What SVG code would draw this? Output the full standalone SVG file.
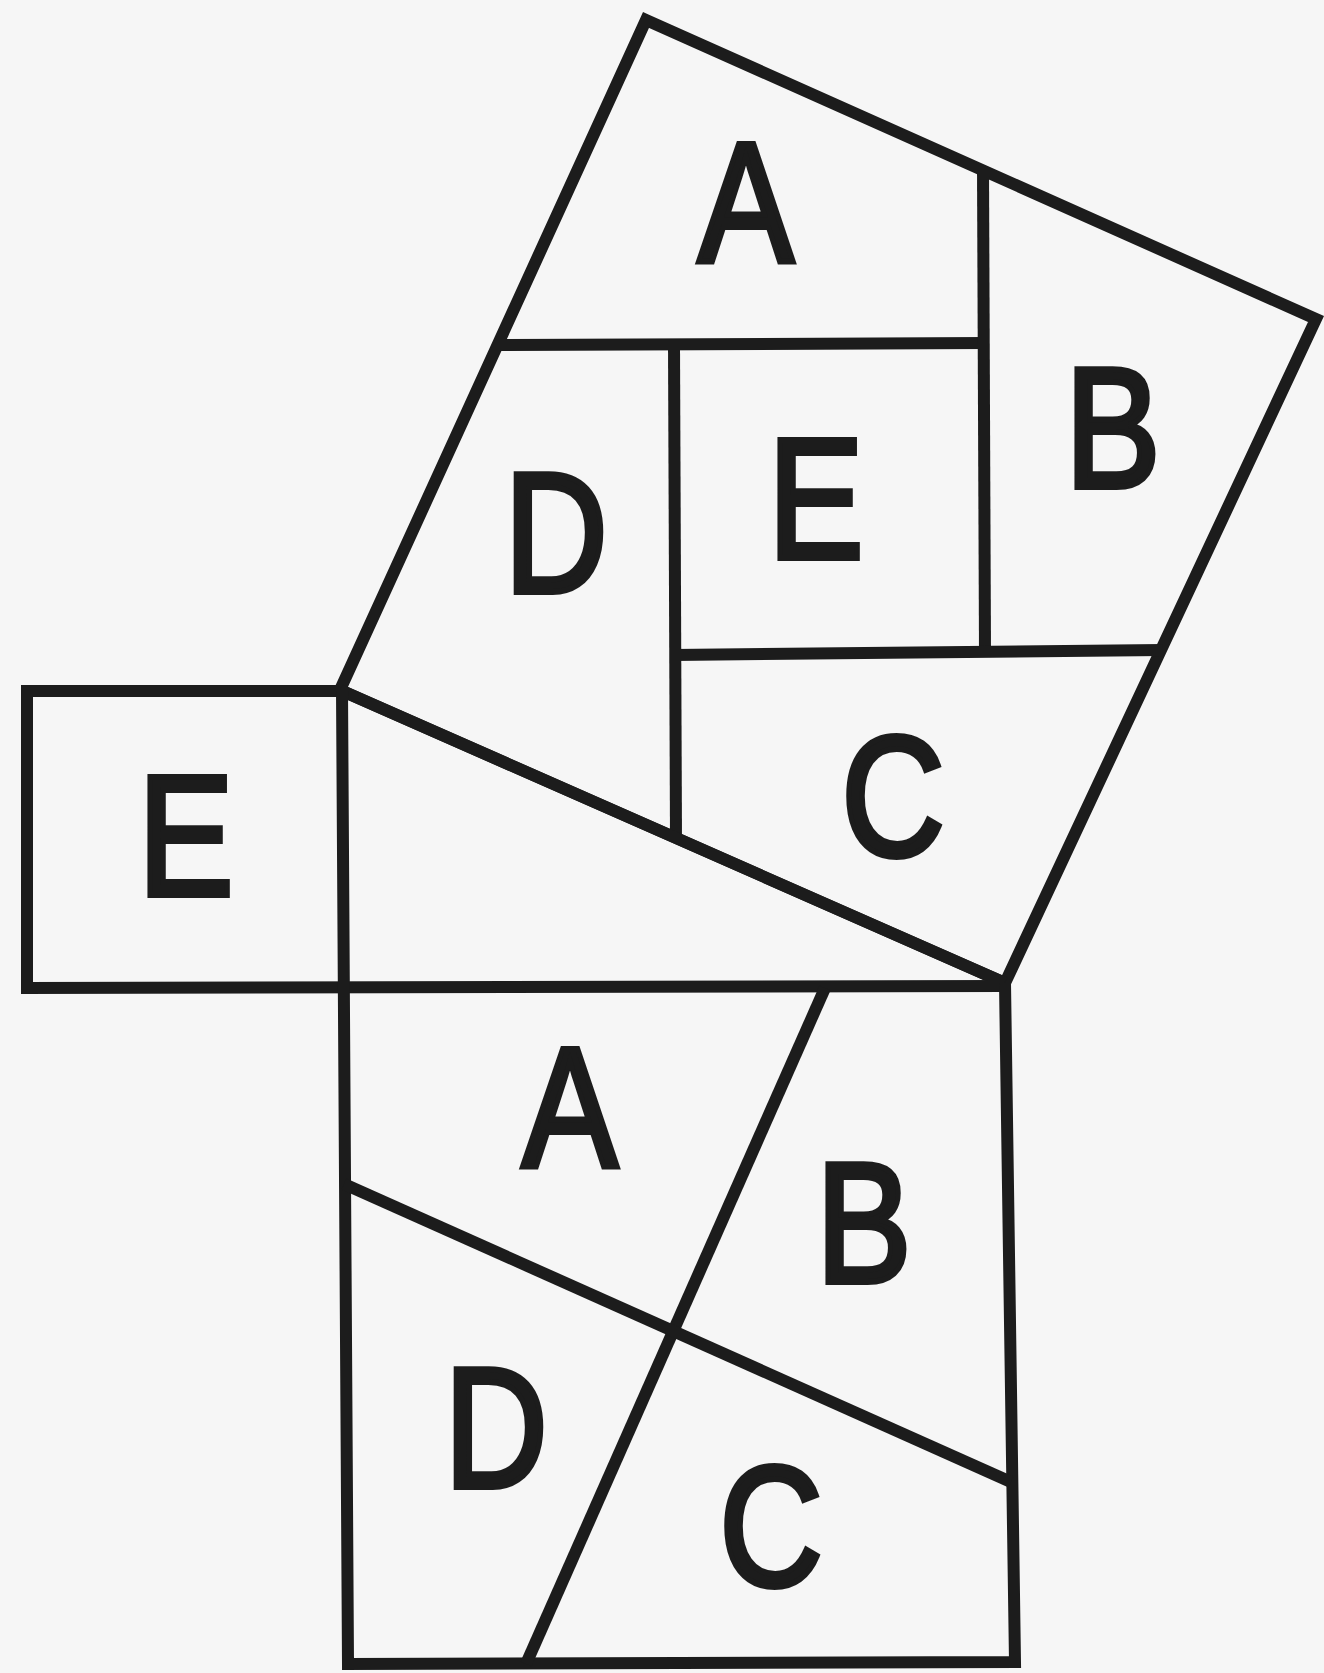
<svg xmlns="http://www.w3.org/2000/svg" width="1324" height="1673" viewBox="0 0 1324 1673">
<style>
.ln{stroke:#1c1c1c;stroke-width:12;fill:none;stroke-linecap:butt;stroke-linejoin:miter}
.lb{font-family:"Liberation Sans","DejaVu Sans",sans-serif;font-size:170px;fill:#1c1c1c;stroke:#1c1c1c;stroke-width:6;stroke-linejoin:miter;text-anchor:middle}
</style>
<rect width="1324" height="1673" fill="#f6f6f6"/>
<g id="hypotenuse-square">
<polygon class="ln" points="646,20 1316,319 1005,983 340,690"/>
<line class="ln" x1="496" y1="345" x2="987" y2="343"/>
<line class="ln" x1="983" y1="168" x2="985" y2="652"/>
<line class="ln" x1="674" y1="655" x2="1163" y2="650"/>
<line class="ln" x1="674" y1="345" x2="676" y2="839"/>
<line class="ln" x1="340" y1="690" x2="1005" y2="983"/>
</g>
<g id="small-square">
<polyline class="ln" points="340,691 27,691 27,988 1005,986"/>
</g>
<g id="leg-square">
<polyline class="ln" points="342,690 348,1664 1015,1662 1005,983"/>
<line class="ln" x1="825" y1="988" x2="526" y2="1664"/>
<line class="ln" x1="344" y1="1184" x2="1011" y2="1482"/>
</g>
<g id="labels">
<text class="lb" transform="translate(746,261) scale(0.84,1)">A</text>
<text class="lb" transform="translate(1113,487) scale(0.84,1)">B</text>
<text class="lb" transform="translate(816,558) scale(0.84,1)">E</text>
<text class="lb" transform="translate(556,592) scale(0.84,1)">D</text>
<text class="lb" transform="translate(893,855) scale(0.84,1)">C</text>
<text class="lb" transform="translate(186,895) scale(0.84,1)">E</text>
<text class="lb" transform="translate(570,1166) scale(0.84,1)">A</text>
<text class="lb" transform="translate(864,1282) scale(0.84,1)">B</text>
<text class="lb" transform="translate(496,1487) scale(0.84,1)">D</text>
<text class="lb" transform="translate(771,1585) scale(0.84,1)">C</text>
</g>
</svg>
